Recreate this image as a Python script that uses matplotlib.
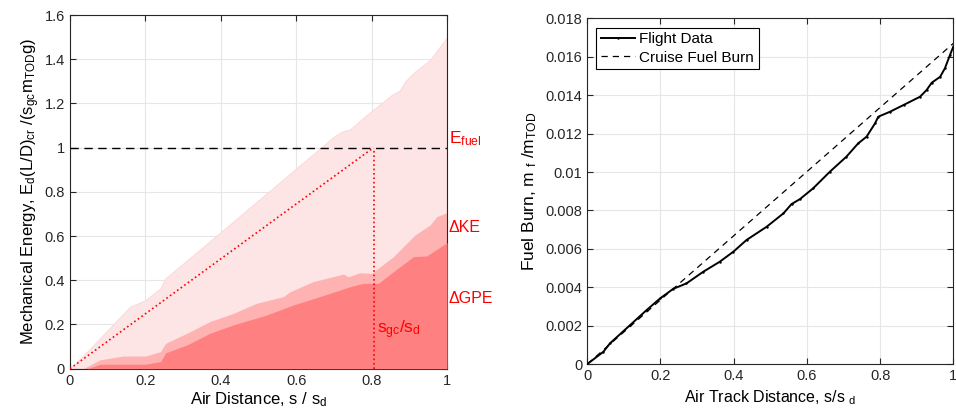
import numpy as np
import matplotlib.pyplot as plt

plt.rcParams["font.family"] = ["Liberation Sans", "DejaVu Sans"]
plt.rcParams["mathtext.fontset"] = "custom"
plt.rcParams["mathtext.rm"] = "Liberation Sans"
plt.rcParams["mathtext.it"] = "Liberation Sans"
plt.rcParams["font.size"] = 10

# left panel: mechanical energy vs air distance
s_total = [0, 0.05, 0.159, 0.2, 0.239, 0.254, 0.4, 0.6, 0.7, 0.72, 0.743,
           0.787, 0.853, 0.875, 0.889, 0.915, 0.955, 1.0]
e_total = [0, 0.085, 0.28, 0.31, 0.363, 0.41, 0.618, 0.906, 1.05, 1.072, 1.083,
           1.148, 1.238, 1.26, 1.30, 1.344, 1.397, 1.50]

s_ke = [0, 0.035, 0.08, 0.14, 0.2, 0.24, 0.254, 0.31, 0.371, 0.433, 0.495, 0.566,
        0.584, 0.645, 0.725, 0.738, 0.769, 0.8, 0.822, 0.858, 0.884, 0.915,
        0.955, 0.973, 1.0]
e_ke = [0, 0, 0.04, 0.057, 0.057, 0.077, 0.115, 0.16, 0.213, 0.25, 0.296, 0.326,
        0.348, 0.394, 0.428, 0.416, 0.434, 0.431, 0.46, 0.507, 0.552, 0.605,
        0.65, 0.688, 0.706]

s_gpe = [0, 0.045, 0.08, 0.2, 0.24, 0.254, 0.31, 0.371, 0.433, 0.522, 0.592,
         0.663, 0.743, 0.778, 0.818, 0.858, 0.911, 0.946, 1.0]
e_gpe = [0, 0, 0.02, 0.02, 0.032, 0.072, 0.107, 0.16, 0.198, 0.243, 0.288,
         0.326, 0.371, 0.386, 0.386, 0.439, 0.507, 0.51, 0.57]

s_gc = 0.805
e_fuel = 1.0

# right panel: fuel burn
s_track = [0, 0.044, 0.062, 0.117, 0.162, 0.199, 0.235, 0.271, 0.317, 0.362,
           0.399, 0.435, 0.49, 0.536, 0.558, 0.581, 0.617, 0.663, 0.708, 0.74,
           0.763, 0.786, 0.795, 0.827, 0.864, 0.909, 0.927, 0.941, 0.964, 0.977,
           0.991, 1.0]
fuel_burn = [0, 0.00064, 0.00108, 0.00203, 0.00281, 0.00342, 0.00392, 0.0042,
             0.00481, 0.00533, 0.00585, 0.00646, 0.00715, 0.00785, 0.00833,
             0.00859, 0.00915, 0.01002, 0.0108, 0.01149, 0.01184, 0.01253,
             0.01288, 0.01314, 0.01349, 0.01392, 0.01427, 0.01465, 0.01496,
             0.0154, 0.0161, 0.01653]
cruise_x = [0, 1]
cruise_y = [0, 0.0167]

fig = plt.figure(figsize=(9.56, 4.18), dpi=100)
ax1 = fig.add_axes([0.0732, 0.118, 0.3944, 0.846])
ax2 = fig.add_axes([0.6143, 0.129, 0.3829, 0.827])


def matlab_style(ax):
    ax.grid(True, color="#e6e6e6", linewidth=0.8, zorder=0)
    ax.set_axisbelow(True)
    ax.tick_params(direction="in", top=True, right=True, length=4,
                   width=0.8, colors="#262626", labelsize=10.5)
    for sp in ax.spines.values():
        sp.set_color("#262626")
        sp.set_linewidth(0.8)


matlab_style(ax1)
ax1.fill_between(s_total, e_total, color="#fde4e5", linewidth=0.6,
                 edgecolor="#fcd6d8", zorder=1)
ax1.fill_between(s_ke, e_ke, color="#ffb2b2", linewidth=0, zorder=2)
ax1.fill_between(s_gpe, e_gpe, color="#ff8080", linewidth=0, zorder=3)
ax1.axhline(e_fuel, color="black", linestyle=(0, (6, 4)), linewidth=1, zorder=4)
ax1.plot([0, s_gc], [0, e_fuel], color="red", linestyle=":", linewidth=1.2, zorder=5)
ax1.plot([s_gc, s_gc], [0, e_fuel], color="red", linestyle=":", linewidth=1.2, zorder=5)
ax1.text(s_gc + 0.01, 0.175, r"s$_{\rm gc}$/s$_{\rm d}$", color="red",
         fontsize=12.5, va="center", ha="left", zorder=6)
ax1.text(1.005, 1.04, r"E$_{\rm fuel}$", color="red", fontsize=12.5,
         va="center", ha="left", clip_on=False)
ax1.text(1.005, 0.637, "ΔKE", color="red", fontsize=11.5, va="center",
         ha="left", clip_on=False)
ax1.text(1.005, 0.319, "ΔGPE", color="red", fontsize=11.5, va="center",
         ha="left", clip_on=False)
ax1.set_xlim(0, 1)
ax1.set_ylim(0, 1.6)
ax1.set_xticks([0, 0.2, 0.4, 0.6, 0.8, 1])
ax1.set_xticklabels(["0", "0.2", "0.4", "0.6", "0.8", "1"])
ax1.set_yticks([0, 0.2, 0.4, 0.6, 0.8, 1, 1.2, 1.4, 1.6])
ax1.set_yticklabels(["0", "0.2", "0.4", "0.6", "0.8", "1", "1.2", "1.4", "1.6"])
ax1.set_xlabel(r"Air Distance, s / s$_{\rm d}$", fontsize=12, labelpad=2)
ax1.set_ylabel(r"Mechanical Energy, E$_{\rm d}$(L/D)$_{\rm cr}$ /(s$_{\rm gc}$m$_{\rm TOD}$g)",
               fontsize=12, labelpad=2)

matlab_style(ax2)
ax2.plot(s_track, fuel_burn, color="black", linewidth=1.4, marker=".",
         markersize=1.5, label="Flight Data", zorder=3)
ax2.plot(cruise_x, cruise_y, color="black", linestyle=(0, (5, 4)),
         linewidth=0.9, label="Cruise Fuel Burn", zorder=2)
ax2.set_xlim(0, 1)
ax2.set_ylim(0, 0.018)
ax2.set_xticks([0, 0.2, 0.4, 0.6, 0.8, 1])
ax2.set_xticklabels(["0", "0.2", "0.4", "0.6", "0.8", "1"])
ax2.set_yticks(np.arange(0, 0.0181, 0.002))
ax2.set_yticklabels(["0", "0.002", "0.004", "0.006", "0.008", "0.01",
                     "0.012", "0.014", "0.016", "0.018"])
ax2.set_xlabel(r"Air Track Distance, s/s $_{\rm d}$", fontsize=11.5, labelpad=4)
ax2.set_ylabel(r"Fuel Burn, m $_{\rm f}$ /m$_{\rm TOD}$", fontsize=12.5, labelpad=5)
leg = ax2.legend(loc="upper left", fontsize=11, fancybox=False,
                 edgecolor="black", framealpha=1, borderaxespad=0.6,
                 handlelength=2.2, borderpad=0.3, labelspacing=0.3,
                 handletextpad=0.3)
leg.get_frame().set_linewidth(0.8)

fig.savefig("out.png", dpi=100)
